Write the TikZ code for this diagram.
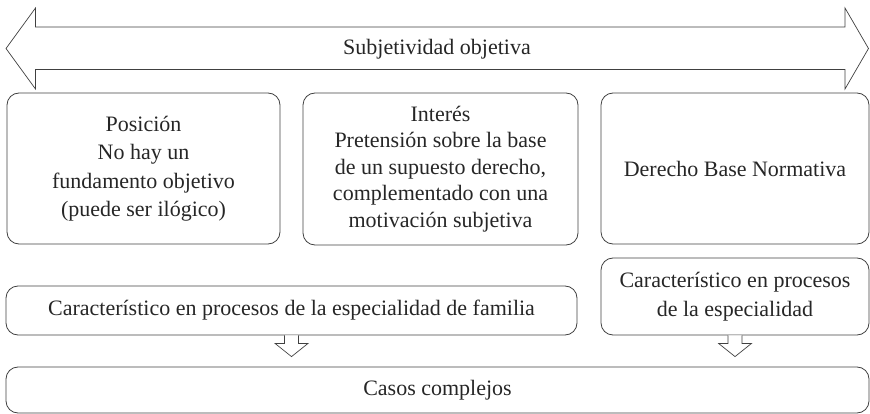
\documentclass[tikz,border=0pt]{standalone}
\usepackage{fontspec}
\setmainfont{Liberation Serif}
\usetikzlibrary{calc}
\begin{document}
\begin{tikzpicture}[x=1pt,y=-1pt,
  line width=0.8pt,
  box/.style={draw=black!75, rounded corners=12pt, inner sep=0pt, align=center,
    font=\fontsize{22}{28.5}\selectfont, text=black!85},
  blockarrow/.style={draw=black!75, line width=0.7pt, fill=white, line join=miter},
]
\useasboundingbox (0,0) rectangle (870,414);
% double arrow
\draw[blockarrow] (6,48.5) -- (35.5,8) -- (35.5,27) -- (845,27) -- (845,8) -- (868.5,48.5)
  -- (845,89) -- (845,69.5) -- (35.5,69.5) -- (35.5,89) -- cycle;
\node[font=\fontsize{22}{26}\selectfont, text=black!85] (subj) at (437,49) {Subjetividad objetiva};
% top boxes
\node[box, minimum width=273pt, minimum height=151pt] (b1) at (143.5,168.5)
  {Posición\\No hay un\\fundamento objetivo\\(puede ser ilógico)};
\node[box, minimum width=275pt, minimum height=152pt, font=\fontsize{22}{26.5}\selectfont] (b2) at (440.5,169)
  {Interés\\Pretensión sobre la base\\de un supuesto derecho,\\complementado con una\\motivación subjetiva};
\node[box, minimum width=268pt, minimum height=151pt] (b3) at (735,168.5)
  {Derecho Base Normativa};
% middle boxes
\node[box, minimum width=571pt, minimum height=49pt] (b4) at (291.5,310.5)
  {Característico en procesos de la especialidad de familia};
\node[box, minimum width=268pt, minimum height=77pt] (b5) at (735,296.5)
  {Característico en procesos\\de la especialidad};
% bottom box
\node[box, minimum width=863pt, minimum height=46pt] (b6) at (437.5,390)
  {Casos complejos};
% small block arrows
\foreach \s in {b4,b5}{
  \draw[blockarrow] ($(\s.south)+(-7,0)$) -- ($(\s.south)+(-7,8)$) -- ($(\s.south)+(-16.5,8)$)
    -- ($(\s.south |- b6.north)+(0,-10)$)
    -- ($(\s.south)+(16.5,8)$) -- ($(\s.south)+(7,8)$) -- ($(\s.south)+(7,0)$);
}
\end{tikzpicture}
\end{document}
